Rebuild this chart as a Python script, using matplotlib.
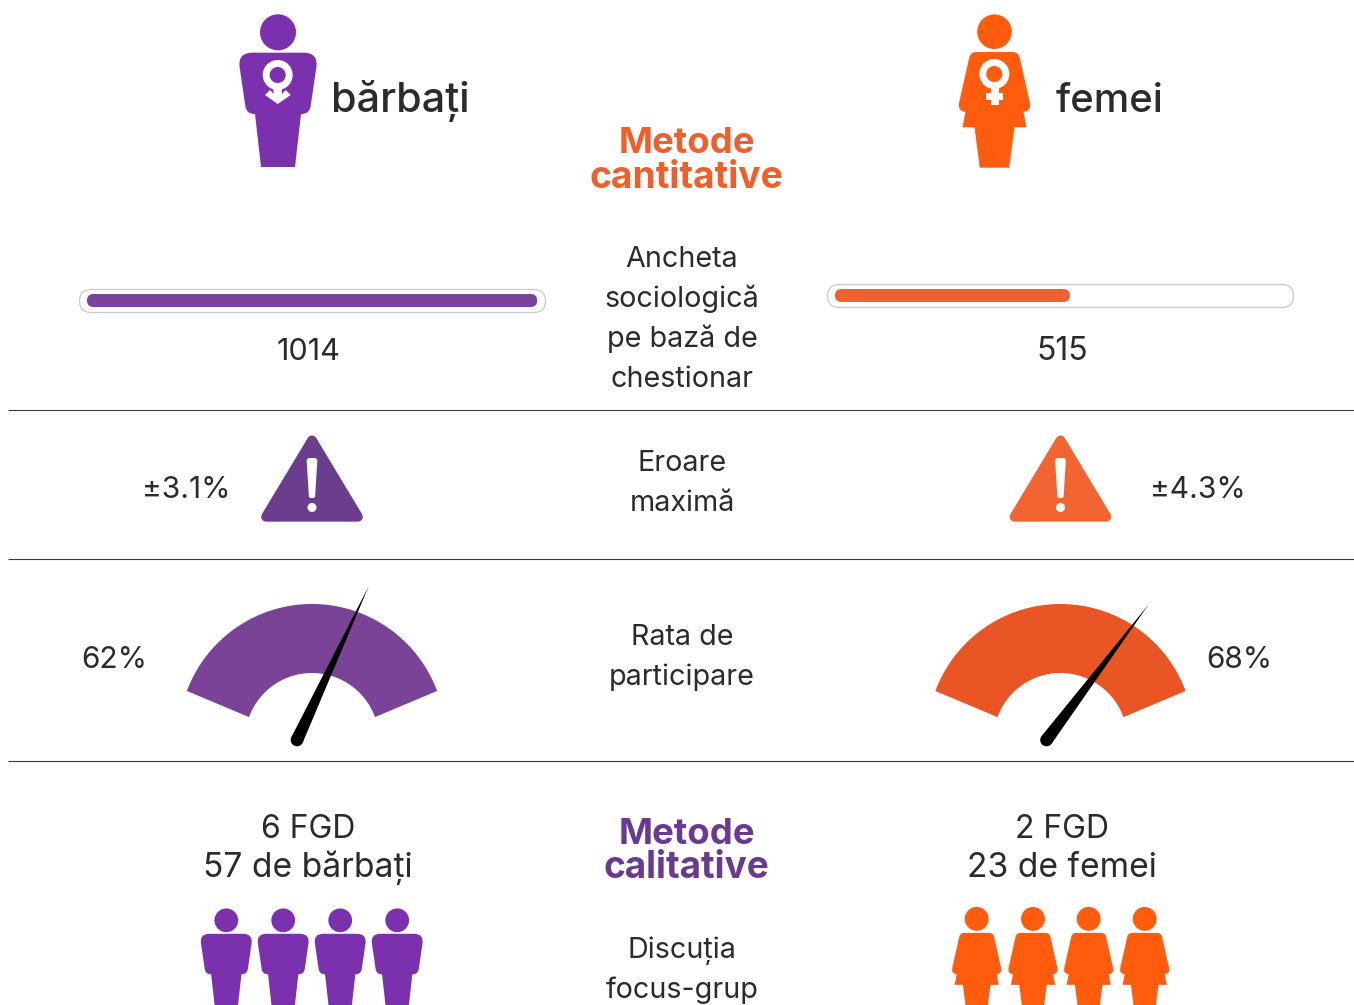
import numpy as np
import matplotlib
matplotlib.use('Agg')
import matplotlib.pyplot as plt
from matplotlib.path import Path
from matplotlib.patches import PathPatch, Circle, FancyBboxPatch, Polygon

plt.rcParams['font.family'] = ['Inter', 'DejaVu Sans']

# data
groups = ['bărbați', 'femei']
survey_counts = ['1014', '515']
survey_fill = [0.964, 0.503]  # filled share of the bar tracks
max_error = ['±3.1%', '±4.3%']
participation = [62, 68]
fgd_labels = [['6 FGD', '57 de bărbați'], ['2 FGD', '23 de femei']]
row_labels = [['Ancheta', 'sociologică', 'pe bază de', 'chestionar'],
              ['Eroare', 'maximă'], ['Rata de', 'participare']]
qual_labels = ['Discuția', 'focus-grup']

PURPLE = '#7B31AD'
ORANGE = '#FF5C0E'
BAR = ['#7A4298', '#EE6130']
TRI = ['#6B3D8E', '#F26532']
GAUGE = ['#7A4397', '#E95525']
INK = '#2B2A2E'

fig = plt.figure(figsize=(13.54, 10.05), dpi=100)
ax = fig.add_axes([0, 0, 1, 1])
ax.set_xlim(0, 1354)
ax.set_ylim(1005, 0)
ax.axis('off')


def round_poly(pts, radii):
    # closed path, corners cut by quadratic curves
    verts, codes = [], []
    n = len(pts)
    for i in range(n):
        p = np.array(pts[i], float)
        a = np.array(pts[i - 1], float)
        b = np.array(pts[(i + 1) % n], float)
        r = radii[i]
        p1 = p + (a - p) / np.linalg.norm(a - p) * r
        p2 = p + (b - p) / np.linalg.norm(b - p) * r
        verts += [p1, p, p2]
        codes += [Path.MOVETO if i == 0 else Path.LINETO, Path.CURVE3, Path.CURVE3]
    verts.append(verts[0])
    codes.append(Path.CLOSEPOLY)
    return Path(verts, codes)


def person(cx, yoff, s, color, woman):
    if woman:
        head_y, head_r = 31.7, 17.3
        half = [(24, 52, 6), (37.5, 112, 10), (29, 112, 0.01), (32, 127.3, 0), (20, 127.3, 0), (14.7, 167.7, 0)]
    else:
        head_y, head_r = 32.3, 18
        half = [(40.5, 52.7, 15), (31.5, 114, 8), (23, 114, 0), (17, 167, 0)]
    right = [(cx + s * w, yoff + s * y) for w, y, r in half]
    left = [(cx - s * w, yoff + s * y) for w, y, r in half][::-1]
    rad = [s * r for w, y, r in half]
    ax.add_patch(PathPatch(round_poly(right + left, rad + rad[::-1]), fc=color, ec='none'))
    ax.add_patch(Circle((cx, yoff + s * head_y), s * head_r, fc=color, ec='none'))


# big figures
person(278, 0, 1, PURPLE, False)
person(994.5, 0, 1, ORANGE, True)

# male sign
ax.add_patch(Circle((277.7, 75), 11.5, fc='none', ec='white', lw=5))
ax.add_patch(Polygon([(273.4, 87), (282, 87), (282, 94), (285.7, 90), (290.7, 95), (277.7, 104),
                      (265, 95), (270, 90), (273.4, 94)], fc='white', ec='none'))
# female sign
ax.add_patch(Circle((994.3, 74), 11.5, fc='none', ec='white', lw=5))
ax.add_patch(Polygon([(990.5, 87), (998.5, 87), (998.5, 93.3), (1003.3, 93.3), (1003.3, 100), (998.5, 100),
                      (998.5, 105), (990.5, 105), (990.5, 100), (985.7, 100), (985.7, 93.3), (990.5, 93.3)],
                     fc='white', ec='none'))

ax.text(331, 111.5, groups[0], fontsize=29.8, color=INK, weight='medium', ha='left', va='baseline')
ax.text(1056, 111.5, groups[1], fontsize=28.8, color=INK, weight='medium', ha='left', va='baseline')

# section titles
for txt, y, size, col in [('Metode', 153, 26.3, '#EE5F2B'), ('cantitative', 188, 26.8, '#EE5F2B'),
                          ('Metode', 844, 26.3, '#693A90'), ('calitative', 878, 26.6, '#693A90')]:
    ax.text(686.5, y, txt, fontsize=size, color=col, weight='bold', ha='center', va='baseline')

# centre column
for lines, ys in zip(row_labels, [[266.5, 306.5, 346.5, 386.5], [470.5, 510.5], [645, 685]]):
    for txt, y in zip(lines, ys):
        ax.text(682, y, txt, fontsize=20.7, color=INK, ha='center', va='baseline')
for txt, y in zip(qual_labels, [957.5, 997.5]):
    ax.text(682, y, txt, fontsize=20.7, color=INK, ha='center', va='baseline')

# survey bars
for i, (x0, ytop) in enumerate([(79, 289), (827, 284)]):
    track = FancyBboxPatch((x0 + 0.5, ytop + 0.5), 466, 23, boxstyle='round,pad=0,rounding_size=11.5',
                           fc='white', ec='#C9C9C9', lw=0.9)
    ax.add_patch(track)
    w = survey_fill[i] * 467
    ax.add_patch(FancyBboxPatch((x0 + 8, ytop + 5), w, 13, boxstyle='round,pad=0,rounding_size=6.5',
                                fc=BAR[i], ec='none'))
ax.text(308, 360, survey_counts[0], fontsize=22, color=INK, ha='center', va='baseline')
ax.text(1062, 360, survey_counts[1], fontsize=23, color=INK, ha='center', va='baseline')

# separators
for y in [410.2, 559.2, 761.2]:
    ax.plot([8, 1354], [y, y], color='#3A3A3A', lw=0.8, solid_capstyle='butt')

# warning triangles
for i, cx in enumerate([312, 1060.5]):
    ax.add_patch(Polygon([(cx, 440.3), (cx - 46, 516.8), (cx + 46, 516.8)], fc=TRI[i], ec=TRI[i], lw=7, joinstyle='round'))
    ax.add_patch(PathPatch(round_poly([(cx - 5.5, 458), (cx + 5.5, 458), (cx + 3, 498), (cx - 3, 498)], [3, 3, 2, 2]),
                           fc='white', ec='none'))
    ax.add_patch(Circle((cx, 507.5), 4.5, fc='white', ec='none'))
ax.text(186, 498, max_error[0], fontsize=21.5, color=INK, ha='center', va='baseline')
ax.text(1198, 498, max_error[1], fontsize=21.5, color=INK, ha='center', va='baseline')

# gauges: the inner arc sits on a slightly lower centre than the outer one
for i, cx in enumerate([312, 1060.5]):
    t_out = np.deg2rad(np.linspace(159.6, 20.4, 120))
    t_in = np.deg2rad(np.linspace(20, 160, 80))
    outer = np.column_stack([cx + 133.5 * np.cos(t_out), 737.5 - 133.5 * np.sin(t_out)])
    inner = np.column_stack([cx + 67 * np.cos(t_in), 740 - 67 * np.sin(t_in)])
    ax.add_patch(Polygon(np.vstack([outer, inner]), fc=GAUGE[i], ec='none'))
    base = np.array([cx - 15 + i, 740.0])
    ang = np.deg2rad(189 - 2 * participation[i])
    d = np.array([np.cos(ang), -np.sin(ang)])
    nrm = np.array([d[1], -d[0]])
    ax.add_patch(Polygon([base + nrm * 6.3, base + d * 170, base - nrm * 6.3], fc='black', ec='none', zorder=3))
    ax.add_patch(Circle(base, 6.3, fc='black', ec='none', zorder=3))
ax.text(114, 668, f'{participation[0]}%', fontsize=21.5, color=INK, ha='center', va='baseline')
ax.text(1239, 668, f'{participation[1]}%', fontsize=21.5, color=INK, ha='center', va='baseline')

# focus groups
for cx0, lines in zip([308, 1062], fgd_labels):
    ax.text(cx0, 838, lines[0], fontsize=23, color=INK, ha='center', va='baseline')
    ax.text(cx0, 877, lines[1], fontsize=24.2, color=INK, ha='center', va='baseline')
for cx in [226.3, 283.2, 340.2, 397.2]:
    person(cx, 899, 0.66, PURPLE, False)
for cx in [976.7, 1033, 1088.7, 1144.7]:
    person(cx, 897, 0.69, ORANGE, True)

fig.savefig('out.png', dpi=100)
